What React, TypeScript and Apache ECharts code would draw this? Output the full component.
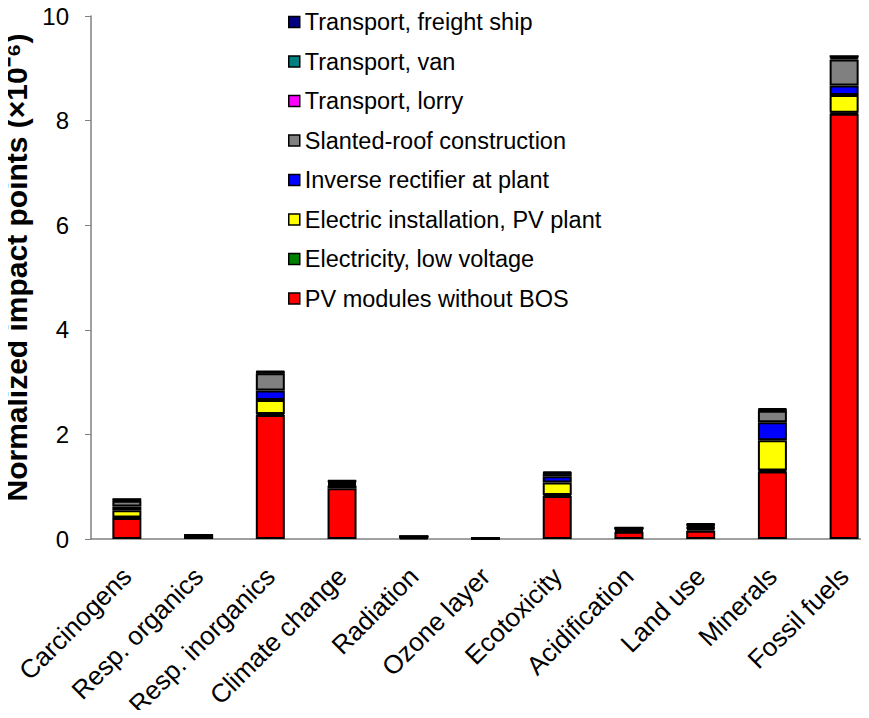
import React, { useEffect, useRef } from "react";
import * as echarts from "echarts";

const categories = [
  "Carcinogens",
  "Resp. organics",
  "Resp. inorganics",
  "Climate change",
  "Radiation",
  "Ozone layer",
  "Ecotoxicity",
  "Acidification",
  "Land use",
  "Minerals",
  "Fossil fuels",
];

const pvModules = [0.4, 0.04, 2.37, 0.97, 0.02, 0.01, 0.82, 0.14, 0.16, 1.29, 8.13];
const electricity = [0.01, 0.01, 0.02, 0.05, 0.01, 0.005, 0.02, 0.02, 0.03, 0.02, 0.02];
const electricInstallation = [0.14, 0, 0.27, 0.02, 0.01, 0, 0.24, 0.02, 0.02, 0.58, 0.34];
const inverseRectifier = [0.07, 0, 0.18, 0.02, 0, 0, 0.12, 0.01, 0.01, 0.34, 0.18];
const slantedRoof = [0.11, 0.01, 0.33, 0.02, 0.01, 0, 0.04, 0.01, 0.03, 0.22, 0.5];
const lorry = [0.02, 0.01, 0.02, 0.02, 0, 0, 0.02, 0.01, 0.02, 0.02, 0.03];
const van = [0.005, 0, 0.005, 0.005, 0, 0, 0.005, 0, 0.005, 0.005, 0.01];
const freightShip = [0.01, 0.01, 0.02, 0.02, 0, 0, 0.02, 0.01, 0.02, 0.02, 0.04];

const seriesDefs = [
  { name: "PV modules without BOS", data: pvModules, color: "#ff0000" },
  { name: "Electricity, low voltage", data: electricity, color: "#008000" },
  { name: "Electric installation, PV plant", data: electricInstallation, color: "#ffff00" },
  { name: "Inverse rectifier at plant", data: inverseRectifier, color: "#0000ff" },
  { name: "Slanted-roof construction", data: slantedRoof, color: "#808080" },
  { name: "Transport, lorry", data: lorry, color: "#ff00ff" },
  { name: "Transport, van", data: van, color: "#008080" },
  { name: "Transport, freight ship", data: freightShip, color: "#000080" },
];

const FONT = "Arial, 'Liberation Sans', sans-serif";

export default function App() {
  const ref = useRef<HTMLDivElement>(null);
  useEffect(() => {
    if (!ref.current) return;
    const chart = echarts.init(ref.current, undefined, { renderer: "svg" });
    chart.setOption({
      animation: false,
      textStyle: { fontFamily: FONT },
      grid: {
        left: 91,
        top: 16,
        bottom: 179,
        width: 789,
        containLabel: false,
        outerBoundsMode: "none",
      },
      legend: {
        orient: "vertical",
        left: 283,
        top: 5,
        icon: "rect",
        itemWidth: 11,
        itemHeight: 11,
        itemGap: 15.5,
        itemStyle: { borderColor: "#000", borderWidth: 1.5 },
        textStyle: { fontSize: 23.5, color: "#000", fontFamily: FONT, lineHeight: 24 },
        data: seriesDefs.map((s) => s.name).reverse(),
      },
      xAxis: {
        type: "category",
        data: categories,
        boundaryGap: true,
        axisLine: { lineStyle: { color: "#808080", width: 1.5 } },
        axisTick: { alignWithLabel: false, length: 6, lineStyle: { color: "#808080" } },
        axisLabel: {
          rotate: 45,
          fontSize: 26,
          color: "#000",
          fontFamily: FONT,
          margin: 33,
          interval: 0,
        },
      },
      yAxis: {
        type: "value",
        min: 0,
        max: 10,
        interval: 2,
        name: "Normalized impact points (×10⁻⁶)",
        nameLocation: "middle",
        nameGap: 55,
        nameTextStyle: {
          fontSize: 30,
          fontWeight: "bold",
          color: "#000",
          fontFamily: FONT,
          padding: [0, 0, 0, 20],
        },
        axisLine: { show: true, lineStyle: { color: "#808080", width: 1.5 } },
        axisTick: { show: true, length: 6, lineStyle: { color: "#808080" } },
        axisLabel: { fontSize: 24, color: "#000", fontFamily: FONT, margin: 22 },
        splitLine: { show: false },
      },
      series: seriesDefs.map((s) => ({
        name: s.name,
        type: "bar",
        stack: "total",
        data: s.data,
        barWidth: 29,
        itemStyle: { color: s.color, borderColor: "#000", borderWidth: 2 },
      })),
    });
    return () => chart.dispose();
  }, []);
  return <div ref={ref} style={{ width: 869, height: 718, margin: -8 }} />;
}
